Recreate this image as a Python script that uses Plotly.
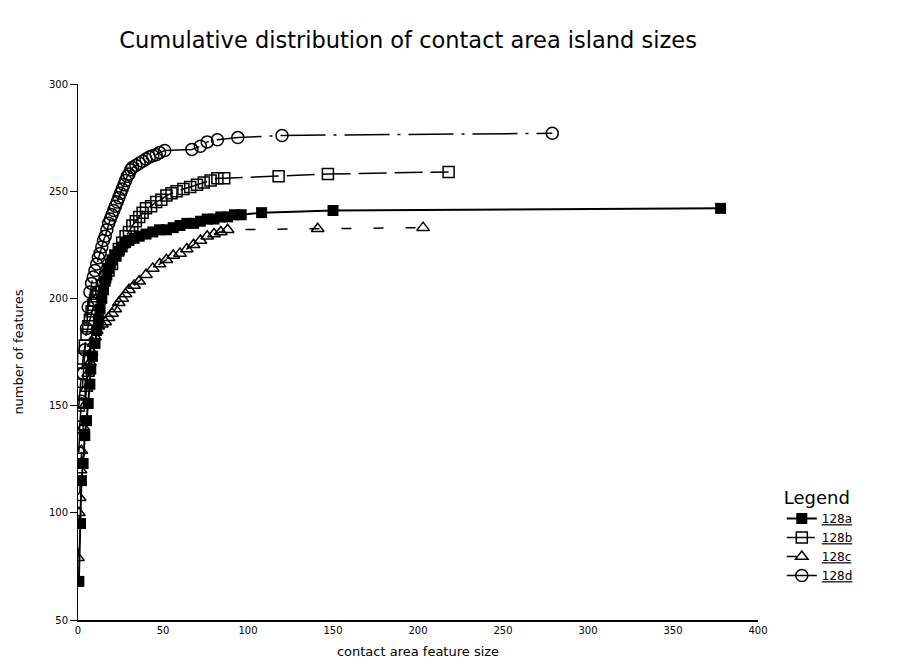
import plotly.graph_objects as go

# 128a (filled squares, solid)
a_x = [0.5, 1.5, 2, 3, 4, 5, 6, 7, 7.5, 8.5, 10, 11, 12, 13, 14, 15, 16, 17, 18, 19, 20, 22, 24, 26, 28,
       30, 33, 36, 40, 44, 48, 52, 56, 60, 64, 68, 72, 76, 80, 84, 88, 92, 96, 108, 150, 378]
a_y = [68, 95, 115, 123, 136, 143, 151, 160, 167, 173, 179, 185, 190, 195, 200, 204, 208, 211, 214, 216, 218,
       220, 222, 224, 226, 227, 228, 229, 230, 231, 232, 232, 233, 234, 235, 235, 236, 237, 237, 238, 238, 239,
       239, 240, 241, 242]

# 128b (open squares, dashed)
b_x = [0.5, 1, 2, 3, 4, 5, 6, 7, 8, 9, 10, 11, 12, 14, 16, 18, 20, 22, 24, 26, 28, 30, 32, 34, 36, 38, 40,
       43, 46, 49, 52, 55, 58, 62, 66, 70, 74, 78, 82, 86, 118, 147, 218]
b_y = [150, 156, 165, 172, 178, 183, 187, 190, 194, 197, 199, 201, 203, 206, 210, 213, 216, 220, 223, 226,
       229, 231, 234, 236, 238, 240, 242, 243, 245, 246, 248, 249, 250, 251, 252, 253, 254, 255, 256, 256,
       257, 258, 259]

# 128c (open triangles, short dashes)
c_x = [0, 0.5, 1, 1.5, 2, 3, 4, 5, 6, 7, 8, 9, 10, 11, 12, 14, 16, 18, 20, 22, 24, 26, 28, 30, 33, 36, 40,
       44, 48, 52, 56, 60, 64, 68, 72, 76, 80, 84, 88, 141, 203]
c_y = [79, 100, 107, 120, 129, 140, 150, 158, 165, 170, 175, 179, 182, 185, 187, 188, 189, 191, 193, 195,
       198, 200, 202, 204, 206, 208, 211, 214, 216, 218, 220, 221, 223, 225, 227, 229, 230, 231, 232, 232.5,
       233]

# 128d (open circles, dash-dot)
d_x = [0.5, 1, 2, 3, 4, 5, 6, 7, 8, 9, 10, 11, 12, 13, 14, 15, 16, 17, 18, 19, 20, 21, 22, 23, 24, 25, 26,
       27, 28, 29, 30, 31, 32, 34, 36, 38, 40, 42, 44, 46, 48, 51, 67, 72, 76, 82, 94, 120, 279]
d_y = [128, 140, 152, 165, 176, 186, 196, 203, 207, 210, 213, 216, 219, 221, 224, 227, 229, 232, 235, 237,
       239, 241, 243, 245, 247, 249, 251, 253, 255, 257, 258, 260, 261, 262, 263, 264, 265, 266, 266.5, 267,
       268, 269, 269.5, 271, 273, 274, 275, 276, 277]

x_ticks = [0, 50, 100, 150, 200, 250, 300, 350, 400]
y_ticks = [50, 100, 150, 200, 250, 300]

FONT = "DejaVu Sans"

fig = go.Figure()
fig.add_trace(go.Scatter(
    x=d_x, y=d_y, name="<u>128d</u>", mode="lines+markers", legendrank=4,
    line=dict(color="black", width=1.5, dash="45px,8px,3px,8px"),
    marker=dict(symbol="circle-open", size=12, color="black", line=dict(width=1.5))))
fig.add_trace(go.Scatter(
    x=b_x, y=b_y, name="<u>128b</u>", mode="lines+markers", legendrank=2,
    line=dict(color="black", width=1.5, dash="28px,8px"),
    marker=dict(symbol="square-open", size=11, color="black", line=dict(width=1.5))))
fig.add_trace(go.Scatter(
    x=c_x, y=c_y, name="<u>128c</u>", mode="lines+markers", legendrank=3,
    line=dict(color="black", width=1.5, dash="10px,22px"),
    marker=dict(symbol="triangle-up-open", size=11, color="black", line=dict(width=1.5))))
fig.add_trace(go.Scatter(
    x=a_x, y=a_y, name="<u>128a</u>", mode="lines+markers", legendrank=1,
    line=dict(color="black", width=2),
    marker=dict(symbol="square", size=11, color="black")))

fig.update_layout(
    width=897, height=668,
    margin=dict(l=78, r=139, t=84, b=48),
    paper_bgcolor="white", plot_bgcolor="white",
    font=dict(family=FONT, color="black", size=10),
    title=dict(text="Cumulative distribution of contact area island sizes",
               x=0.455, xanchor="center", y=0.94, yanchor="middle",
               font=dict(size=22.5, family=FONT, color="black")),
    legend=dict(title=dict(text="Legend", font=dict(size=18, family=FONT)),
                x=1.035, xanchor="left", y=0.26, yanchor="top",
                traceorder="normal", font=dict(size=12, family=FONT),
                itemwidth=30, bgcolor="rgba(0,0,0,0)", tracegroupgap=6),
    showlegend=True,
)
fig.update_xaxes(range=[0, 400], tickvals=x_ticks, ticktext=[str(v) for v in x_ticks],
                 showgrid=False, zeroline=False, showline=True, linecolor="black", linewidth=1.5,
                 ticks="", title=dict(text="contact area feature size", font=dict(size=13), standoff=12))
fig.update_yaxes(range=[50, 300], tickvals=y_ticks, ticktext=[str(v) for v in y_ticks],
                 showgrid=False, zeroline=False, showline=True, linecolor="black", linewidth=1,
                 ticks="outside", ticklen=7, tickcolor="black",
                 title=dict(text="number of features", font=dict(size=13), standoff=22))

fig.write_html("out.html")
